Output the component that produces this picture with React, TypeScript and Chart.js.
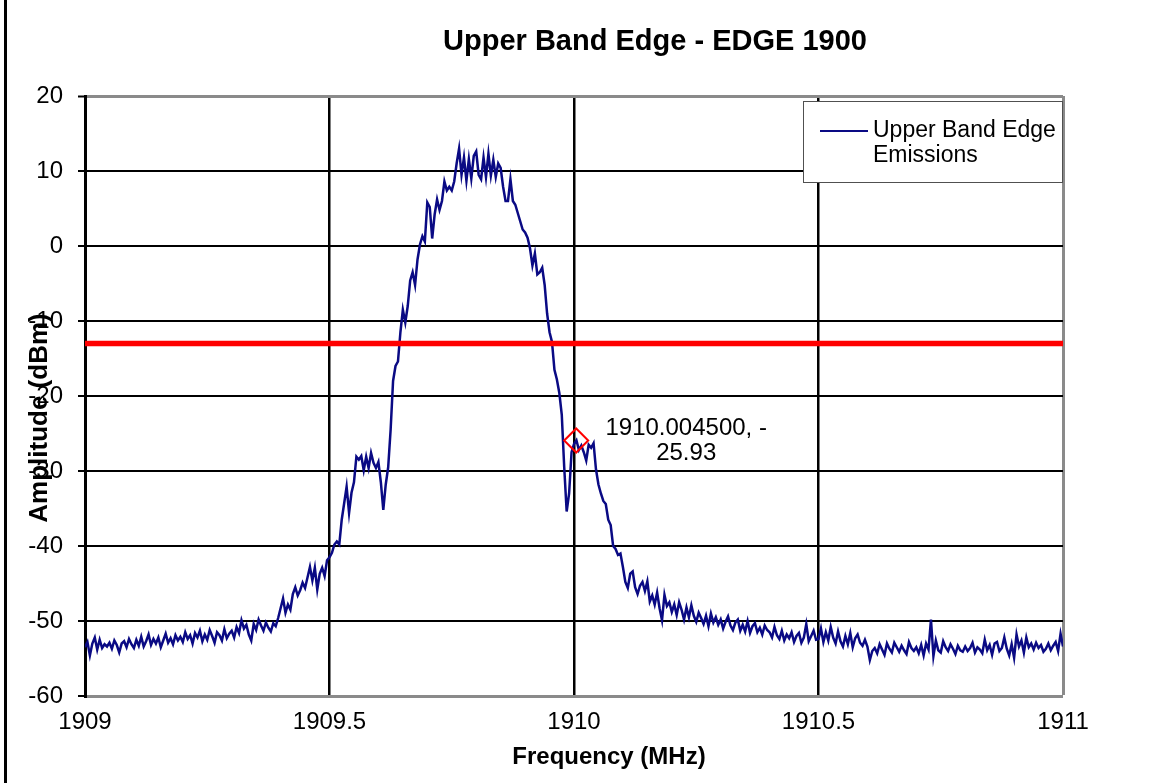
import React, { useEffect, useRef } from "react";
import { Chart, registerables } from "chart.js";

Chart.register(...registerables);

const chartTitle = "Upper Band Edge - EDGE 1900";
const xAxisTitle = "Frequency (MHz)";
const yAxisTitle = "Amplitude (dBm)";
const seriesName = ["Upper Band Edge", "Emissions"];

// Spectrum trace: sampled every 0.005 MHz from 1909 MHz
const freqStartMHz = 1909;
const freqStepMHz = 0.005;
const amplitudeDbm = [
  -53.5, -52.8, -54.6, -53.0, -52.2, -53.8, -52.5, -53.6, -53.1, -53.4, -52.9, -53.7, -52.6, -53.2, -54.2, -53.0, -52.7, -53.5, -52.4, -53.1,
  -53.6, -52.5, -53.3, -52.1, -53.4, -52.7, -51.8, -53.2, -52.4, -53.0, -52.2, -53.5, -52.6, -51.7, -52.9, -52.3, -53.1, -51.9, -52.6, -52.1,
  -52.8, -51.5, -52.4, -51.9, -53.0, -51.6, -52.2, -51.3, -52.7, -51.8, -52.5, -51.2, -52.0, -52.9, -51.5, -51.9, -52.6, -51.1, -52.3, -51.7,
  -51.3, -52.2, -50.8, -51.6, -49.9, -51.0, -50.5, -51.8, -52.6, -50.4, -51.2, -49.8, -50.6, -51.3, -50.2, -50.9, -51.4, -50.3, -50.7, -49.6,
  -48.3, -47.0, -48.9, -47.8, -48.5, -46.4, -45.5, -46.6, -45.9, -44.9, -45.6, -44.2, -42.8, -44.6, -42.9, -45.8, -43.7, -42.9, -44.0, -41.9,
  -41.5, -40.9, -39.8, -39.4, -39.8, -36.5, -34.3, -32.1, -35.6, -32.9, -31.5, -28.1, -28.5, -28.0, -29.9, -28.1, -29.6, -27.6, -28.9, -29.6,
  -28.8, -31.5, -35.2, -31.8, -29.5, -24.5, -18.0, -16.0, -15.4, -11.5, -8.5, -10.2, -8.0, -4.6, -3.5, -5.2, -1.8, 0.2, 1.3, 0.6,
  5.8, 5.2, 1.0, 4.2, 6.2, 4.8, 6.0, 8.6, 7.4, 7.9, 7.4, 8.6, 11.0, 13.0, 9.5, 11.8, 8.7, 11.6, 9.0, 12.0,
  12.6, 9.5, 8.9, 11.8, 9.2, 12.3, 9.4, 11.5, 9.2, 11.0, 10.4, 7.9, 6.0, 6.0, 8.9, 6.0, 5.5, 4.4, 3.3, 2.2,
  1.8, 1.1, -0.3, -2.6, -1.0, -3.8, -3.5, -2.9, -5.2, -9.0, -11.5, -12.8, -16.5, -17.8, -19.6, -22.5, -29.5, -35.4, -33.0, -27.5,
  -26.4, -25.9, -27.2, -26.6, -27.5, -28.6, -26.5, -26.9, -26.3, -29.8, -31.8, -33.0, -34.0, -34.4, -36.5, -37.2, -40.0, -40.4, -41.2, -41.0,
  -42.8, -44.8, -45.6, -43.7, -43.4, -45.5, -46.4, -45.3, -44.8, -46.0, -44.7, -47.4, -46.6, -47.8, -46.2, -48.3, -49.9, -46.5, -48.0, -47.5,
  -48.8, -47.8, -49.2, -47.5, -48.5, -49.8, -48.2, -49.5, -47.9, -49.3, -50.1, -48.9, -49.6, -50.4, -49.3, -50.7, -49.0, -50.2, -49.5, -50.5,
  -49.8, -51.0, -50.1, -49.4, -50.6, -51.2, -50.2, -49.8, -51.3, -50.5, -51.4, -50.0, -51.6, -50.7, -50.3, -51.5, -50.9, -51.8, -50.6, -51.2,
  -51.5, -52.2, -50.8, -51.9, -52.4, -51.3, -52.6, -51.8, -52.3, -51.5, -52.8, -52.0, -51.6, -52.9, -52.2, -50.4, -52.7, -52.0, -51.3, -52.5,
  -52.4, -51.0, -52.8, -51.5, -52.6, -50.8, -52.2, -53.0, -51.4, -52.7, -53.4, -52.0, -53.1, -51.6, -53.5, -52.3, -51.8, -52.9, -53.3, -52.5,
  -53.4, -55.2, -54.0, -53.6, -54.3, -53.1, -53.8, -54.5, -53.0, -53.7, -54.2, -52.9, -53.5, -54.1, -53.3, -53.9, -54.4, -52.8, -53.6, -54.0,
  -53.5, -54.3, -53.2, -54.6, -53.0, -53.8, -49.8, -54.7, -52.6, -53.9, -54.2, -52.7, -53.5, -54.0, -53.1, -53.7, -54.4, -53.3, -53.9, -54.1,
  -53.4, -54.0, -53.6, -52.9, -54.2, -53.5, -53.8, -54.3, -52.5, -53.9, -53.2, -54.5, -53.0, -52.8, -54.0, -53.6, -52.2, -53.7, -54.6, -53.1,
  -54.9, -51.8, -53.4, -52.6, -54.2, -52.2, -53.5, -53.0, -53.8, -52.9, -53.6, -53.2, -54.1, -53.7, -53.0, -53.9, -53.3, -52.8, -54.0, -51.7, -53.4,
];

// Limit line (-13 dBm)
const limitFreqMHz = [1909, 1911];
const limitDbm = [-13, -13];

// Marker
const markerFreqMHz = [1910.0045];
const markerDbm = [-25.93];
const markerLabel = ["1910.004500, -", "25.93"];

// Axes
const xTickValues = [1909, 1909.5, 1910, 1910.5, 1911];
const xTickLabels = ["1909", "1909.5", "1910", "1910.5", "1911"];
const yTickValues = [20, 10, 0, -10, -20, -30, -40, -50, -60];
const yTickLabels = ["20", "10", "0", "-10", "-20", "-30", "-40", "-50", "-60"];

const FONT = '"Liberation Sans", Arial, sans-serif';
const EDGE_GRAY = "#8a8a8a";
const TRACE = "#0a0a84";

const overlayPlugin = {
  id: "overlay",
  afterDraw(chart: any) {
    const ctx = chart.ctx as CanvasRenderingContext2D;
    const xs = chart.scales.x;
    const ys = chart.scales.y;
    ctx.save();
    // page left rule
    ctx.fillStyle = "#000";
    ctx.fillRect(4, 0, 3, chart.height);

    // title
    ctx.fillStyle = "#000";
    ctx.textAlign = "center";
    ctx.textBaseline = "middle";
    ctx.font = `bold 29px ${FONT}`;
    ctx.fillText(chartTitle, 655, 42);

    // x axis title
    ctx.font = `bold 24px ${FONT}`;
    ctx.fillText(xAxisTitle, 609, 757);

    // y axis title
    ctx.save();
    ctx.translate(40, 418);
    ctx.rotate(-Math.PI / 2);
    ctx.font = `bold 26px ${FONT}`;
    ctx.fillText(yAxisTitle, 0, 0);
    ctx.restore();

    // legend
    ctx.fillStyle = "#fff";
    ctx.fillRect(803, 101, 259, 81);
    ctx.strokeStyle = "#505050";
    ctx.lineWidth = 1;
    ctx.strokeRect(803.5, 101.5, 259, 81);
    ctx.strokeStyle = TRACE;
    ctx.lineWidth = 2;
    ctx.beginPath();
    ctx.moveTo(820, 131);
    ctx.lineTo(868, 131);
    ctx.stroke();
    ctx.fillStyle = "#000";
    ctx.textAlign = "left";
    ctx.font = `23px ${FONT}`;
    ctx.fillText(seriesName[0], 873, 131);
    ctx.fillText(seriesName[1], 873, 156);

    // marker label
    const mx = xs.getPixelForValue(markerFreqMHz[0]);
    const my = ys.getPixelForValue(markerDbm[0]);
    ctx.textAlign = "center";
    ctx.font = `24px ${FONT}`;
    ctx.fillText(markerLabel[0], mx + 110, my - 12);
    ctx.fillText(markerLabel[1], mx + 110, my + 13);
    ctx.restore();
  },
};

export default function App() {
  const canvasRef = useRef<HTMLCanvasElement | null>(null);

  useEffect(() => {
    const canvas = canvasRef.current;
    if (!canvas) return;
    const tracePoints = amplitudeDbm.map((v, i) => ({
      x: freqStartMHz + i * freqStepMHz,
      y: v,
    }));
    const limitPoints = limitFreqMHz.map((f, i) => ({ x: f, y: limitDbm[i] }));
    const markerPoints = markerFreqMHz.map((f, i) => ({ x: f, y: markerDbm[i] }));

    const chart = new Chart(canvas, {
      type: "line",
      data: {
        datasets: [
          {
            label: "Marker",
            data: markerPoints,
            showLine: false,
            pointStyle: "rectRot",
            pointRadius: 12,
            pointBorderColor: "#ff0000",
            pointBackgroundColor: "rgba(0,0,0,0)",
            pointBorderWidth: 2,
          },
          {
            label: "Limit",
            data: limitPoints,
            borderColor: "#ff0000",
            borderWidth: 5.5,
            pointRadius: 0,
          },
          {
            label: seriesName.join(" "),
            data: tracePoints,
            borderColor: TRACE,
            borderWidth: 2.5,
            pointRadius: 0,
            tension: 0,
          },
        ],
      },
      options: {
        responsive: false,
        animation: false,
        devicePixelRatio: 1,
        layout: { padding: { top: 96, right: 88, bottom: 0, left: 0 } },
        plugins: {
          legend: { display: false },
          title: { display: false },
          tooltip: { enabled: false },
        },
        scales: {
          x: {
            type: "linear",
            min: 1909,
            max: 1911,
            afterFit(scale: any) {
              scale.height = 87;
            },
            afterBuildTicks(scale: any) {
              scale.ticks = xTickValues.map((v) => ({ value: v }));
            },
            ticks: {
              callback: (v: any) => xTickLabels[xTickValues.indexOf(Number(v))] ?? "",
              font: { family: FONT, size: 24 },
              color: "#000",
              padding: 12,
              maxRotation: 0,
              autoSkip: false,
            },
            grid: {
              drawTicks: false,
              color: (c: any) => (c.tick && c.tick.value === 1911 ? EDGE_GRAY : "#000"),
              lineWidth: (c: any) => (c.tick && c.tick.value === 1909 ? 0 : c.tick && c.tick.value === 1911 ? 3 : 2.5),
            },
            border: { display: true, color: EDGE_GRAY, width: 3 },
          },
          y: {
            type: "linear",
            min: -60,
            max: 20,
            afterFit(scale: any) {
              scale.width = 85;
            },
            afterBuildTicks(scale: any) {
              scale.ticks = yTickValues.map((v) => ({ value: v }));
            },
            ticks: {
              callback: (v: any) => yTickLabels[yTickValues.indexOf(Number(v))] ?? "",
              font: { family: FONT, size: 24 },
              color: "#000",
              padding: 15,
              autoSkip: false,
            },
            grid: {
              drawTicks: true,
              tickLength: 7,
              tickColor: "#000",
              tickWidth: 2,
              color: (c: any) =>
                c.tick && (c.tick.value === 20 || c.tick.value === -60) ? EDGE_GRAY : "#000",
              lineWidth: (c: any) => (c.tick && c.tick.value === 20 ? 3 : c.tick && c.tick.value === -60 ? 0 : 2),
            },
            border: { display: true, color: "#000", width: 3 },
          },
        },
      },
      plugins: [overlayPlugin],
    });
    return () => chart.destroy();
  }, []);

  return (
    <div style={{ position: "fixed", left: 0, top: 0, width: 1151, height: 783, background: "#fff" }}>
      <canvas ref={canvasRef} width={1151} height={783} style={{ display: "block" }} />
    </div>
  );
}
